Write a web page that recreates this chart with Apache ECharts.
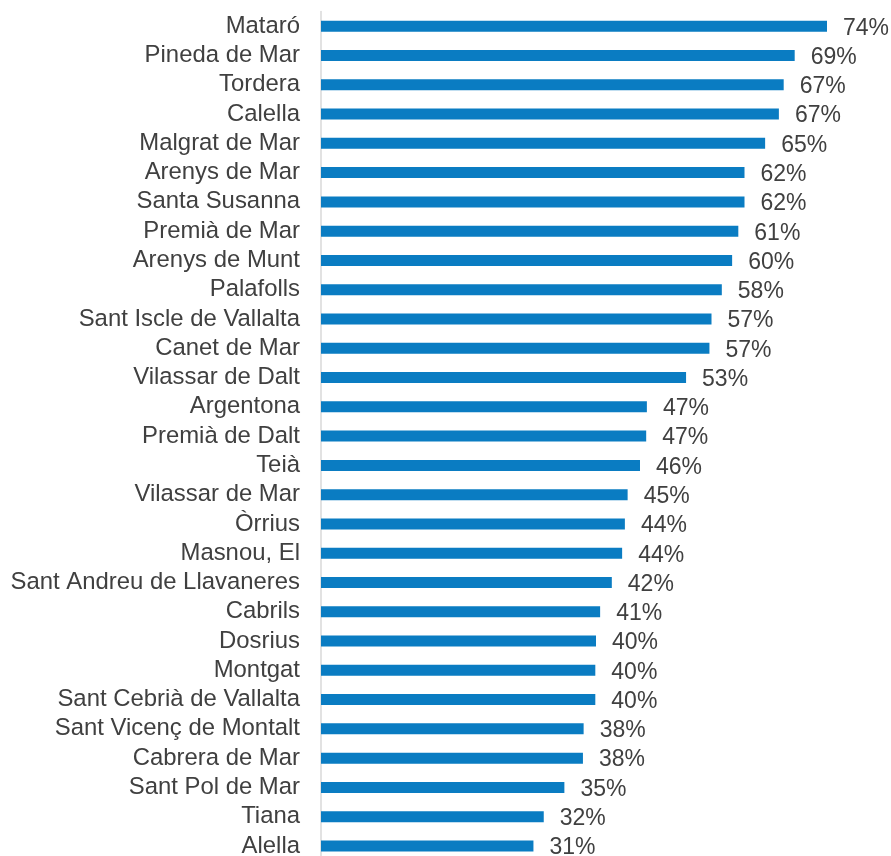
<!DOCTYPE html>
<html>
<head>
<meta charset="utf-8">
<style>
  html, body { margin: 0; padding: 0; background: #ffffff; }
  #chart { width: 891px; height: 856px; }
</style>
<script src="https://cdn.jsdelivr.net/npm/echarts@6/dist/echarts.min.js"></script>
</head>
<body>
<div id="chart"></div>
<script>
// Municipalities, listed top to bottom
const municipalities = [
  'Mataró', 'Pineda de Mar', 'Tordera', 'Calella', 'Malgrat de Mar',
  'Arenys de Mar', 'Santa Susanna', 'Premià de Mar', 'Arenys de Munt', 'Palafolls',
  'Sant Iscle de Vallalta', 'Canet de Mar', 'Vilassar de Dalt', 'Argentona', 'Premià de Dalt',
  'Teià', 'Vilassar de Mar', 'Òrrius', 'Masnou, El', 'Sant Andreu de Llavaneres',
  'Cabrils', 'Dosrius', 'Montgat', 'Sant Cebrià de Vallalta', 'Sant Vicenç de Montalt',
  'Cabrera de Mar', 'Sant Pol de Mar', 'Tiana', 'Alella'
];

// Share per municipality (%)
const shares = [
  73.6, 68.9, 67.3, 66.6, 64.6,
  61.6, 61.6, 60.7, 59.8, 58.3,
  56.8, 56.5, 53.1, 47.4, 47.3,
  46.4, 44.6, 44.2, 43.8, 42.3,
  40.6, 40.0, 39.9, 39.9, 38.2,
  38.1, 35.4, 32.4, 30.9
];

const valueAxisMax = 80;

const FONT = '"Liberation Sans", Arial, sans-serif';
const TEXT_COLOR = '#404040';

const chart = echarts.init(document.getElementById('chart'), null, { renderer: 'canvas' });

chart.setOption({
  animation: false,
  backgroundColor: '#ffffff',
  grid: {
    left: 321, top: 11.6, width: 550, height: 849,
    containLabel: false,
    outerBoundsMode: 'none'
  },
  xAxis: {
    type: 'value',
    min: 0,
    max: valueAxisMax,
    show: false
  },
  yAxis: {
    type: 'category',
    data: municipalities,
    inverse: true,
    axisLine: { show: true, lineStyle: { color: '#d9d9d9', width: 1.5 } },
    axisTick: { show: false },
    axisLabel: {
      interval: 0,
      margin: 21,
      color: TEXT_COLOR,
      fontFamily: FONT,
      fontSize: 23.9,
      padding: [3, 0, 0, 0]
    },
    splitLine: { show: false }
  },
  series: [{
    type: 'bar',
    data: shares,
    barWidth: 11,
    itemStyle: { color: '#0a7cc2' },
    label: {
      show: true,
      position: 'right',
      distance: 16,
      offset: [0, 2],
      color: TEXT_COLOR,
      fontFamily: FONT,
      fontSize: 23,
      formatter: p => Math.round(p.value) + '%'
    }
  }]
});
</script>
</body>
</html>
